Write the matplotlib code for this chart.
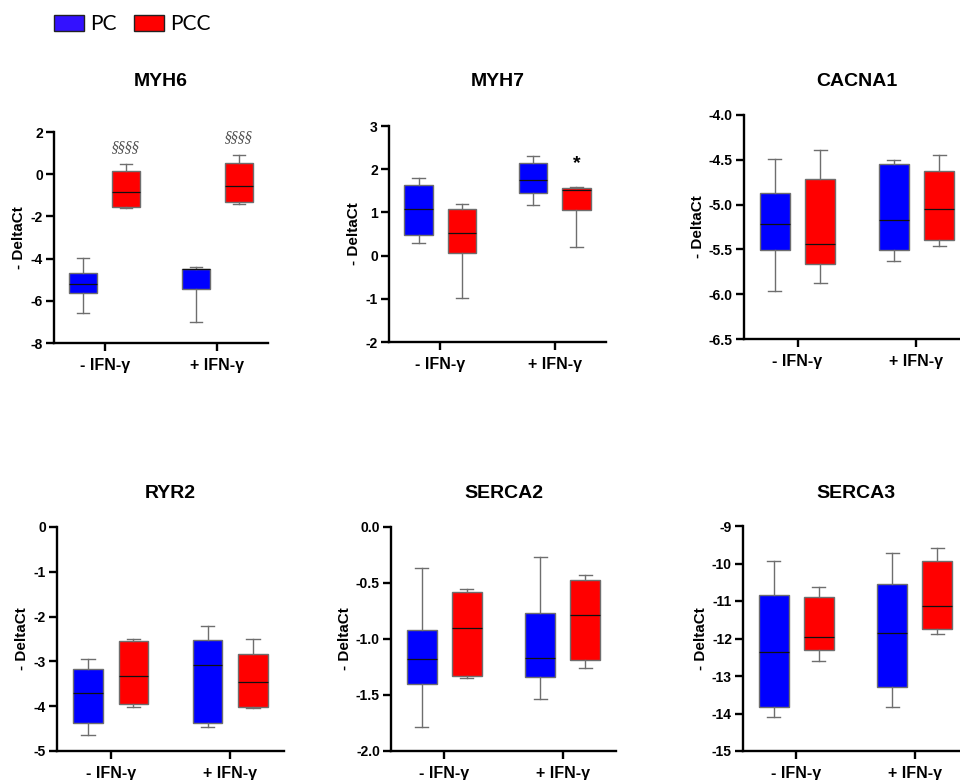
import numpy as np
import matplotlib
matplotlib.use("Agg")
import matplotlib.pyplot as plt
from matplotlib.patches import Patch

plt.rcParams['font.family'] = ['Liberation Sans', 'DejaVu Sans']
plt.rcParams['axes.unicode_minus'] = False

# groups / series
groups = ['- IFN-γ', '+ IFN-γ']
series = ['PC', 'PCC']
colors = {'PC': '#0000ff', 'PCC': '#ff0000'}

# box stats: (whisker low, q1, median, q3, whisker high)
# order: PC -IFN, PCC -IFN, PC +IFN, PCC +IFN
genes = ['MYH6', 'MYH7', 'CACNA1', 'RYR2', 'SERCA2', 'SERCA3']
myh6 = [(-6.58, -5.61, -5.21, -4.66, -3.98),
        (-1.58, -1.56, -0.82, 0.17, 0.50),
        (-6.99, -5.45, -4.50, -4.47, -4.38),
        (-1.42, -1.34, -0.57, 0.52, 0.93)]
myh7 = [(0.29, 0.47, 1.08, 1.63, 1.79),
        (-0.98, 0.05, 0.52, 1.08, 1.19),
        (1.17, 1.44, 1.76, 2.14, 2.30),
        (0.20, 1.05, 1.52, 1.56, 1.58)]
cacna1 = [(-5.96, -5.51, -5.22, -4.87, -4.49),
          (-5.88, -5.66, -5.44, -4.71, -4.39),
          (-5.63, -5.51, -5.17, -4.55, -4.505),
          (-5.46, -5.39, -5.05, -4.62, -4.45)]
ryr2 = [(-4.64, -4.37, -3.71, -3.18, -2.95),
        (-4.01, -3.96, -3.32, -2.54, -2.50),
        (-4.47, -4.37, -3.08, -2.52, -2.22),
        (-4.05, -4.02, -3.47, -2.83, -2.50)]
serca2 = [(-1.79, -1.40, -1.18, -0.92, -0.37),
          (-1.35, -1.33, -0.90, -0.58, -0.55),
          (-1.54, -1.34, -1.17, -0.77, -0.27),
          (-1.26, -1.19, -0.79, -0.47, -0.43)]
serca3 = [(-14.10, -13.82, -12.37, -10.85, -9.92),
          (-12.59, -12.31, -11.97, -10.89, -10.62),
          (-13.82, -13.30, -11.84, -10.55, -9.73),
          (-11.89, -11.75, -11.12, -9.93, -9.58)]
all_stats = [myh6, myh7, cacna1, ryr2, serca2, serca3]

# y axis ranges and ticks
ylims = [(-8, 2), (-2, 3), (-6.5, -4.0), (-5, 0), (-2.0, 0.0), (-15, -9)]
ysteps = [2, 1, 0.5, 1, 0.5, 1]
yfmt = ['%d', '%d', '%.1f', '%d', '%.1f', '%d']

# axes boxes in pixels: left, top, right, bottom
W, H = 960, 780
boxes_px = [(54, 132, 268, 343), (389, 126, 606, 342), (744, 115, 970, 339),
            (57, 527, 284, 751), (391, 527, 616, 751), (743, 526, 968, 751)]

fig = plt.figure(figsize=(W / 100, H / 100), dpi=100)

for k, gene in enumerate(genes):
    l, t, r, b = boxes_px[k]
    ax = fig.add_axes([l / W, 1 - b / H, (r - l) / W, (b - t) / H])
    st = all_stats[k]
    pos = []
    bstats = []
    cols = []
    for gi in range(2):
        for si, s in enumerate(series):
            lo, q1, med, q3, hi = st[gi * 2 + si]
            bstats.append(dict(whislo=lo, q1=q1, med=med, q3=q3, whishi=hi, fliers=[]))
            pos.append(gi + (-0.19 if si == 0 else 0.19))
            cols.append(colors[s])
    bp = ax.bxp(bstats, positions=pos, widths=0.25, patch_artist=True,
                showfliers=False, capwidths=0.11,
                boxprops=dict(edgecolor='#6e6e6e', linewidth=1.0),
                whiskerprops=dict(color='#6e6e6e', linewidth=1.0),
                capprops=dict(color='#6e6e6e', linewidth=1.0),
                medianprops=dict(color='#111111', linewidth=0.9))
    for patch, c in zip(bp['boxes'], cols):
        patch.set_facecolor(c)

    ax.set_xlim(-0.45, 1.45)
    y0, y1 = ylims[k]
    ax.set_ylim(y0, y1)
    yt = np.arange(y0, y1 + ysteps[k] / 2, ysteps[k])
    ax.set_yticks(yt)
    ax.set_yticklabels([yfmt[k] % v for v in yt])
    ax.set_xticks([0, 1])
    ax.set_xticklabels(groups, fontsize=11.5, fontweight='bold')
    for lab in ax.get_yticklabels():
        lab.set_fontweight('bold')
        lab.set_fontsize(10)
    ax.spines['top'].set_visible(False)
    ax.spines['right'].set_visible(False)
    ax.spines['left'].set_linewidth(1.7)
    ax.spines['bottom'].set_linewidth(1.7)
    ax.tick_params(axis='both', direction='out', length=6, width=1.7)
    ax.tick_params(axis='x', pad=5)
    ax.tick_params(axis='y', pad=2)
    ax.set_ylabel('- DeltaCt', fontsize=11, fontweight='bold', labelpad=3)

    ytitle = 81 if k < 3 else 493
    fig.text((l + r) / 2 / W, 1 - ytitle / H, gene, fontsize=14, fontweight='bold',
             ha='center', va='center')

    # significance marks
    if gene == 'MYH6':
        ax.text(0.19, 1.29, '§§§§', fontsize=10, style='italic', color='#555555',
                family=['DejaVu Serif'], ha='center', va='center')
        ax.text(1.19, 1.76, '§§§§', fontsize=10, style='italic', color='#555555',
                family=['DejaVu Serif'], ha='center', va='center')
    if gene == 'MYH7':
        ax.text(1.19, 2.12, '*', fontsize=14, fontweight='bold', ha='center', va='center')

handles = [Patch(facecolor='#3311ff', edgecolor='#222222', linewidth=1.0),
           Patch(facecolor='#ff0000', edgecolor='#222222', linewidth=1.0)]
fig.legend(handles, series, loc='upper left', bbox_to_anchor=(54 / W, 1 - 14 / H),
           ncol=2, frameon=False, prop={'family': 'Lato', 'size': 15},
           handlelength=1.45, handleheight=0.8, handletextpad=0.3,
           columnspacing=0.8, borderpad=0, borderaxespad=0)

fig.savefig('out.png', dpi=100)
